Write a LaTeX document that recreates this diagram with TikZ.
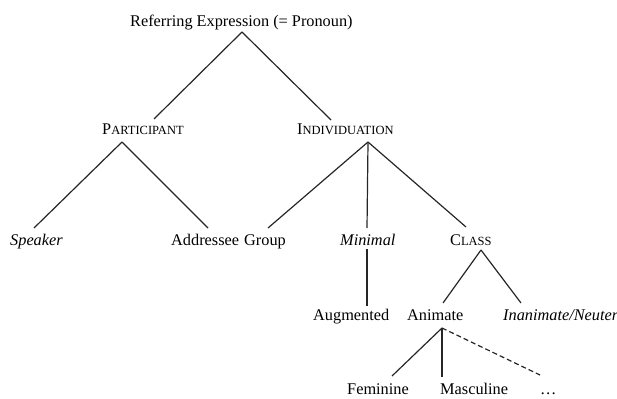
\documentclass[tikz,border=0pt]{standalone}
\usepackage{fontspec}
\setmainfont{Liberation Serif}
\newcommand\mysmcap[2]{#1{\fontsize{12.5}{14}\selectfont #2}}
\begin{document}
\begin{tikzpicture}[x=1pt,y=-1pt,
  lbl/.style={anchor=base west, inner sep=0pt, font=\fontsize{16.3}{18}\selectfont},
  edge/.style={line width=1.2pt, draw=black!85},
  dedge/.style={edge, dash pattern=on 5pt off 3pt}]
\useasboundingbox (0,0) rectangle (617,398);
% nodes
\node[lbl] (root) at (130,27) {Referring Expression (= Pronoun)};
\node[lbl] (part) at (102,135) {\mysmcap{P}{ARTICIPANT}};
\node[lbl] (indiv) at (297,135) {\mysmcap{I}{NDIVIDUATION}};
\node[lbl] (spk) at (10,245) {\itshape Speaker};
\node[lbl] (addr) at (171,245) {Addressee};
\node[lbl] (grp) at (244,245) {Group};
\node[lbl] (min) at (340,245) {\itshape Minimal};
\node[lbl] (cls) at (450,245) {\mysmcap{C}{LASS}};
\node[lbl] (aug) at (313,320) {Augmented};
\node[lbl] (anim) at (407,320) {Animate};
\node[lbl] (inan) at (503,320) {\itshape Inanimate/Neuter};
\node[lbl] (fem) at (347,394) {Feminine};
\node[lbl] (masc) at (440,394) {Masculine};
\node[lbl] (etc) at (540,394) {\ldots};
% connector end points
\coordinate (rootB) at (242,32);
\coordinate (partT) at (154,119); \coordinate (partB) at (122,142);
\coordinate (indivT) at (331,120); \coordinate (indivB) at (368,142);
\coordinate (spkT) at (34,228); \coordinate (addrT) at (208,228);
\coordinate (grpT) at (268,228); \coordinate (minT) at (367,228);
\coordinate (minB) at (367,249); \coordinate (clsT) at (466,227);
\coordinate (clsB) at (481,250); \coordinate (augT) at (367,306);
\coordinate (animT) at (443,303); \coordinate (animB) at (442,328);
\coordinate (inanT) at (521,303); \coordinate (femT) at (392,376);
\coordinate (mascT) at (442,377); \coordinate (etcT) at (540,375);
% connectors
\draw[edge] (rootB) -- (partT);
\draw[edge] (rootB) -- (indivT);
\draw[edge] (partB) -- (spkT);
\draw[edge] (partB) -- (addrT);
\draw[edge] (indivB) -- (grpT);
\draw[edge] (indivB) -- (minT);
\draw[edge] (indivB) -- (clsT);
\draw[edge] (minB) -- (augT);
\draw[edge] (clsB) -- (animT);
\draw[edge] (clsB) -- (inanT);
\draw[edge] (animB) -- (femT);
\draw[edge] (animB) -- (mascT);
\draw[dedge] (animB) -- (etcT);
\end{tikzpicture}
\end{document}
